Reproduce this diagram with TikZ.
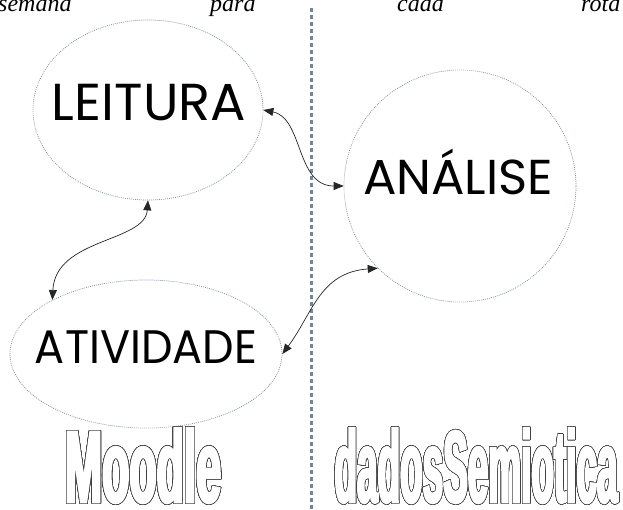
\documentclass[tikz,border=0pt]{standalone}
\usepackage{fontspec}
\usepackage{graphicx}
\usepackage[copies]{contour}
\usetikzlibrary{arrows.meta,shapes.geometric}
\setmainfont{Liberation Serif}
\newfontfamily\lblfont{Poppins}
\newfontfamily\outfont{Liberation Sans}[FakeStretch=0.42, FakeBold=2.5, UprightFont=* Bold]
\contourlength{0.55pt}
\contournumber{32}
\definecolor{dotc}{RGB}{128,142,158}
\definecolor{sepc}{RGB}{118,132,150}
\newcommand\mylbl[3]{\resizebox{#1}{\height}{\lblfont\fontsize{#2}{#2}\selectfont #3}}
\newcommand\myout[2]{\resizebox{#1}{\height}{\outfont\fontsize{102}{102}\selectfont\color{white}\contour{black!75}{#2}}}
\begin{document}
\begin{tikzpicture}[x=1pt,y=-1pt,
  bubble/.style={draw=dotc, dash pattern=on 0.9pt off 1.1pt, line width=0.7pt, ellipse, inner sep=0pt},
  lbl/.style={anchor=base, inner sep=0pt},
  link/.style={draw=black!85, line width=0.7pt, {Triangle[length=10pt,width=8pt]}-{Triangle[length=10pt,width=8pt]}},
  sepline/.style={draw=sepc, line width=3pt, dash pattern=on 3.5pt off 3.5pt},
  toptxt/.style={anchor=base west, inner sep=0pt, font=\fontsize{24}{24}\selectfont\itshape},
  big/.style={anchor=base, inner sep=0pt}
]
\useasboundingbox (0,0) rectangle (623,509);
\clip (0,0) rectangle (623,509);
\fill[white] (0,0) rectangle (623,509);

% top clipped line of text
\node[toptxt] (w1) at (-2,11) {semana};
\node[toptxt] (w2) at (210,11) {para};
\node[toptxt] (w3) at (397,11) {cada};
\node[toptxt] (w4) at (581,11) {rota};

% separator
\coordinate (septop) at (311,8);
\coordinate (sepbot) at (311,512);
\draw[sepline] (septop) -- (sepbot);

% bubbles
\node[bubble, minimum width=230pt, minimum height=180pt] (leit) at (148,110) {};
\node[bubble, minimum width=232pt, minimum height=232pt] (anal) at (460,186) {};
\node[bubble, minimum width=272pt, minimum height=148pt] (ativ) at (146,354) {};

% labels
\node[lbl] (tleit) at (149,120) {\mylbl{194pt}{52}{LEITURA}};
\node[lbl] (tanal) at (458,194) {\mylbl{190pt}{49}{ANÁLISE}};
\node[lbl] (tativ) at (146,363) {\mylbl{222pt}{47}{ATIVIDADE}};

% connectors
\draw[link] (leit.east) .. controls +(40,8) and +(-48,0) .. (anal.west);
\draw[link] (anal.225) .. controls +(-58,4) and +(30,-40) .. (ativ.east);
\draw[link] (leit.south) .. controls +(-3,42) and +(3,-62) .. (ativ.150);

% outlined platform names
\node[big] (moodle) at (143,502) {\myout{156pt}{Moodle}};
\node[big] (dados) at (476,502) {\myout{283pt}{dadosSemiotica}};
\end{tikzpicture}
\end{document}
